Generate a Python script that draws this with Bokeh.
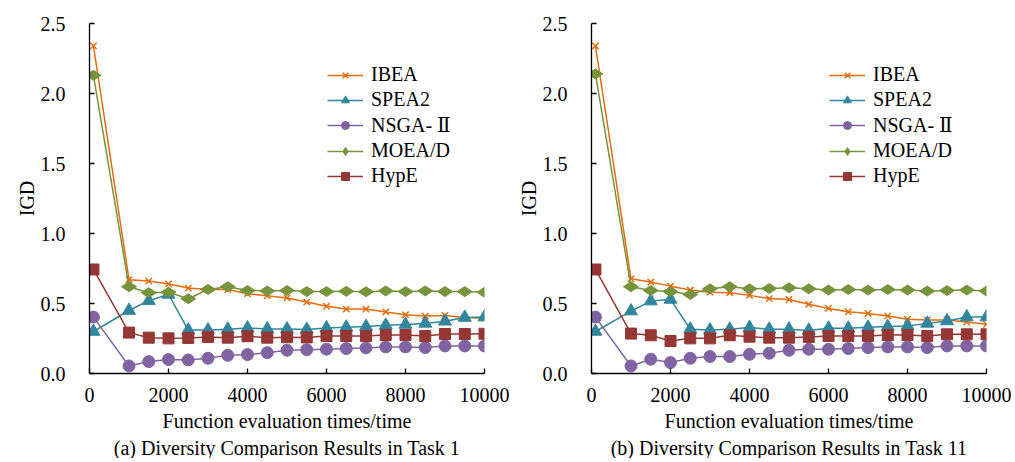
from bokeh.plotting import figure
from bokeh.layouts import row
from bokeh.models import FixedTicker, Legend, LegendItem, Title, CustomJSTickFormatter
from bokeh.embed import file_html
from bokeh.resources import INLINE
import math

x_evals = [100, 1000, 1500, 2000, 2500, 3000, 3500, 4000, 4500, 5000,
           5500, 6000, 6500, 7000, 7500, 8000, 8500, 9000, 9500, 10000]

x_ticks = [0, 2000, 4000, 6000, 8000, 10000]
y_ticks = [0.0, 0.5, 1.0, 1.5, 2.0, 2.5]

algorithms = ["IBEA", "SPEA2", "NSGA- Ⅱ", "MOEA/D", "HypE"]

task1_ibea = [2.34, 0.67, 0.66, 0.64, 0.61, 0.60, 0.60, 0.57, 0.555, 0.54,
              0.51, 0.48, 0.46, 0.46, 0.44, 0.42, 0.41, 0.415, 0.40, 0.395]
task1_spea2 = [0.30, 0.45, 0.52, 0.565, 0.31, 0.31, 0.316, 0.325, 0.318, 0.318,
               0.315, 0.325, 0.33, 0.335, 0.344, 0.35, 0.358, 0.373, 0.40, 0.403]
task1_nsga2 = [0.403, 0.054, 0.085, 0.10, 0.097, 0.109, 0.13, 0.135, 0.149, 0.166,
               0.17, 0.174, 0.178, 0.183, 0.19, 0.19, 0.185, 0.197, 0.197, 0.197]
task1_moead = [2.13, 0.62, 0.577, 0.58, 0.534, 0.60, 0.62, 0.593, 0.59, 0.593,
               0.585, 0.585, 0.587, 0.584, 0.59, 0.585, 0.59, 0.585, 0.585, 0.58]
task1_hype = [0.743, 0.292, 0.256, 0.251, 0.254, 0.261, 0.256, 0.266, 0.256, 0.259,
              0.258, 0.268, 0.268, 0.268, 0.275, 0.275, 0.268, 0.282, 0.282, 0.284]

task11_ibea = [2.34, 0.676, 0.653, 0.624, 0.596, 0.581, 0.577, 0.558, 0.535, 0.529,
               0.494, 0.465, 0.441, 0.429, 0.41, 0.387, 0.382, 0.382, 0.368, 0.351]
task11_spea2 = [0.30, 0.446, 0.517, 0.529, 0.316, 0.31, 0.316, 0.328, 0.316, 0.316,
                0.308, 0.323, 0.323, 0.33, 0.335, 0.34, 0.358, 0.375, 0.403, 0.403]
task11_nsga2 = [0.403, 0.054, 0.102, 0.078, 0.109, 0.121, 0.121, 0.137, 0.145, 0.166,
                0.173, 0.173, 0.178, 0.185, 0.19, 0.19, 0.185, 0.197, 0.197, 0.197]
task11_moead = [2.14, 0.62, 0.593, 0.585, 0.565, 0.605, 0.62, 0.605, 0.607, 0.612,
                0.605, 0.596, 0.60, 0.596, 0.60, 0.596, 0.589, 0.592, 0.596, 0.589]
task11_hype = [0.743, 0.285, 0.273, 0.232, 0.251, 0.251, 0.273, 0.263, 0.256, 0.256,
               0.261, 0.268, 0.268, 0.268, 0.275, 0.275, 0.268, 0.28, 0.28, 0.28]

colors = ["#E46C0A", "#31859C", "#8064A2", "#77933C", "#953735"]
markers = ["x", "triangle", "circle", "diamond", "square"]
msizes = [9, 13, 12, 15, 11]
angles = [0, 0, 0, math.pi / 2, 0]

FONT = "Liberation Serif"
LEGEND_FONT = "'Liberation Serif', 'DejaVu Serif', serif"


def make_panel(series, caption, width, border_left, border_right):
    p = figure(width=width, height=458, x_range=(0, 10000), y_range=(0, 2.5),
               output_backend="svg", toolbar_location=None,
               min_border_left=border_left, min_border_right=border_right,
               min_border_top=23, min_border_bottom=10)
    p.outline_line_color = None
    p.grid.grid_line_color = None
    p.background_fill_color = "white"
    p.border_fill_color = "white"

    for ax in (p.xaxis[0], p.yaxis[0]):
        ax.axis_line_color = "black"
        ax.axis_line_width = 1.3
        ax.major_tick_line_color = "black"
        ax.major_tick_line_width = 1.3
        ax.major_tick_in = 5
        ax.major_tick_out = 0
        ax.minor_tick_line_color = None
        ax.major_label_text_font = FONT
        ax.major_label_text_font_size = "20px"
        ax.major_label_text_font_style = "normal"
        ax.major_label_text_color = "black"
        ax.axis_label_text_font = FONT
        ax.axis_label_text_font_size = "20px"
        ax.axis_label_text_font_style = "normal"
        ax.axis_label_text_color = "black"

    p.xaxis.ticker = FixedTicker(ticks=x_ticks)
    p.yaxis.ticker = FixedTicker(ticks=y_ticks)
    p.yaxis.formatter = CustomJSTickFormatter(code="return tick.toFixed(1);")
    p.xaxis.formatter = CustomJSTickFormatter(code="return tick.toFixed(0);")
    p.xaxis.major_label_standoff = 14
    p.yaxis.major_label_standoff = 24
    p.xaxis.axis_label = "Function evaluation times/time"
    p.xaxis.axis_label_standoff = 5
    p.yaxis.axis_label = "IGD"
    p.yaxis.axis_label_standoff = 0

    items = []
    for name, ys, c, m, s, a in zip(algorithms, series, colors, markers, msizes, angles):
        ln = p.line(x_evals, ys, line_color=c, line_width=1.5)
        if m == "x":
            sc = p.scatter(x_evals, ys, marker=m, size=s, line_color=c, line_width=1.5)
        else:
            sc = p.scatter(x_evals, ys, marker=m, size=s, angle=a,
                           fill_color=c, line_color=c)
        items.append(LegendItem(label=name, renderers=[ln, sc]))

    legend = Legend(items=items, location=(238, 186), orientation="vertical",
                    label_text_font=LEGEND_FONT, label_text_font_size="20px",
                    label_text_color="black",
                    glyph_width=36, glyph_height=20, label_height=20,
                    label_standoff=8, spacing=2, padding=0, margin=0,
                    border_line_color=None, background_fill_alpha=0)
    p.add_layout(legend, "center")

    cap = Title(text=caption, align="center", text_font=FONT,
                text_font_size="20px", text_font_style="normal",
                text_color="black", standoff=0)
    p.add_layout(cap, "below")
    return p


left = make_panel([task1_ibea, task1_spea2, task1_nsga2, task1_moead, task1_hype],
                  "(a) Diversity Comparison Results in Task 1", 511, 89, 27)
right = make_panel([task11_ibea, task11_spea2, task11_nsga2, task11_moead, task11_hype],
                   "(b) Diversity Comparison Results in Task 11", 500, 80, 25)

layout = row(left, right)
open("out.html", "w").write(file_html(layout, INLINE))
